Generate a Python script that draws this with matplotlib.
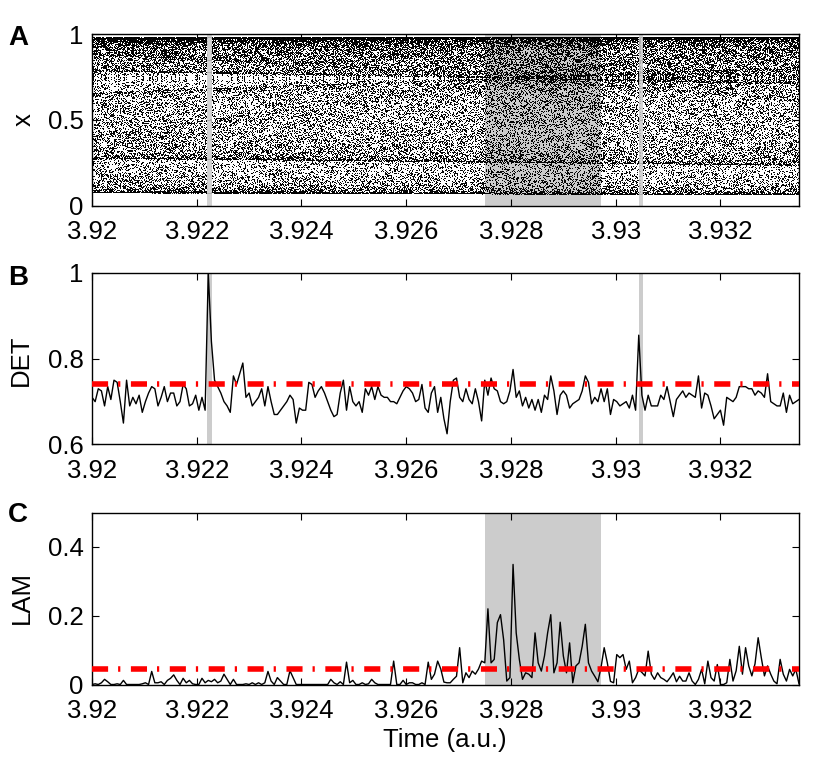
import numpy as np
import matplotlib
matplotlib.use("Agg")
import matplotlib.pyplot as plt
from matplotlib.ticker import FixedLocator, FixedFormatter

plt.rcParams['font.family'] = ['Liberation Sans', 'DejaVu Sans']

# --- data ---------------------------------------------------------------
t_start, t_end = 3.92, 3.9335     # control parameter / time axis
n_iter = 70000                     # iterations of the drifting logistic map
x_init = 0.4

# DET / LAM per window
det = [
    0.71, 0.70, 0.73, 0.725, 0.69, 0.735, 0.705, 0.75, 0.745, 0.70,
    0.65, 0.75, 0.69, 0.71, 0.695, 0.715, 0.675, 0.70, 0.72, 0.735,
    0.73, 0.69, 0.71, 0.735, 0.70, 0.72, 0.72, 0.69, 0.70, 0.74,
    0.73, 0.69, 0.695, 0.715, 0.68, 0.71, 0.68, 1.00, 0.84, 0.75,
    0.735, 0.72, 0.70, 0.69, 0.675, 0.76, 0.74, 0.765, 0.79, 0.71,
    0.72, 0.69, 0.70, 0.71, 0.73, 0.69, 0.735, 0.70, 0.67, 0.67,
    0.68, 0.69, 0.70, 0.715, 0.705, 0.65, 0.685, 0.68, 0.68, 0.745,
    0.74, 0.71, 0.725, 0.735, 0.72, 0.70, 0.68, 0.665, 0.67, 0.72,
    0.75, 0.68, 0.735, 0.70, 0.69, 0.70, 0.675, 0.73, 0.715, 0.735,
    0.705, 0.735, 0.715, 0.71, 0.71, 0.70, 0.70, 0.695, 0.71, 0.725,
    0.735, 0.73, 0.72, 0.70, 0.705, 0.74, 0.685, 0.675, 0.72, 0.735,
    0.675, 0.71, 0.66, 0.625, 0.70, 0.75, 0.755, 0.71, 0.70, 0.73,
    0.705, 0.695, 0.73, 0.70, 0.655, 0.75, 0.715, 0.755, 0.73, 0.725,
    0.70, 0.695, 0.70, 0.725, 0.775, 0.71, 0.725, 0.69, 0.71, 0.685,
    0.705, 0.68, 0.705, 0.675, 0.715, 0.705, 0.76, 0.725, 0.67, 0.715,
    0.725, 0.715, 0.685, 0.695, 0.70, 0.705, 0.725, 0.76, 0.745, 0.695,
    0.71, 0.70, 0.73, 0.70, 0.73, 0.67, 0.705, 0.70, 0.69, 0.695,
    0.70, 0.685, 0.715, 0.68, 0.855, 0.715, 0.68, 0.715, 0.69, 0.69,
    0.69, 0.715, 0.705, 0.735, 0.70, 0.665, 0.705, 0.715, 0.725, 0.71,
    0.72, 0.715, 0.71, 0.76, 0.685, 0.72, 0.715, 0.69, 0.66, 0.67,
    0.68, 0.645, 0.71, 0.705, 0.70, 0.71, 0.735, 0.735, 0.735, 0.73,
    0.73, 0.715, 0.725, 0.72, 0.71, 0.765, 0.70, 0.695, 0.69, 0.69,
    0.72, 0.675, 0.715, 0.695, 0.70, 0.705,
]
lam = [
    0.0, 0.002, 0.0, 0.005, 0.015, 0.008, 0.0, 0.0, 0.002, 0.0,
    0.012, 0.0, 0.0, 0.0, 0.0, 0.0, 0.002, 0.005, 0.0, 0.038,
    0.005, 0.005, 0.008, 0.0, 0.012, 0.018, 0.028, 0.012, 0.0, 0.018,
    0.005, 0.012, 0.002, 0.0, 0.0, 0.018, 0.005, 0.012, 0.008, 0.015,
    0.005, 0.01, 0.03, 0.015, 0.0, 0.015, 0.0, 0.0, 0.0, 0.002,
    0.0, 0.005, 0.0, 0.005, 0.0, 0.005, 0.038, 0.01, 0.0, 0.02,
    0.01, 0.0, 0.0, 0.04, 0.02, 0.0, 0.0, 0.0, 0.0, 0.0,
    0.0, 0.0, 0.0, 0.0, 0.0, 0.0, 0.015, 0.005, 0.0, 0.008,
    0.0, 0.065, 0.005, 0.012, 0.0, 0.0, 0.005, 0.0, 0.002, 0.015,
    0.005, 0.0, 0.0, 0.0, 0.0, 0.0, 0.068, 0.0, 0.0, 0.012,
    0.0, 0.005, 0.005, 0.0, 0.0, 0.005, 0.0, 0.065, 0.015, 0.03,
    0.068, 0.045, 0.007, 0.005, 0.005, 0.015, 0.024, 0.107, 0.005, 0.034,
    0.02, 0.039, 0.03, 0.045, 0.068, 0.063, 0.22, 0.063, 0.073, 0.18,
    0.203, 0.13, 0.01, 0.02, 0.349, 0.15, 0.073, 0.015, 0.034, 0.03,
    0.02, 0.15, 0.063, 0.039, 0.083, 0.15, 0.203, 0.034, 0.063, 0.181,
    0.083, 0.034, 0.121, 0.005, 0.054, 0.063, 0.111, 0.175, 0.063, 0.039,
    0.024, 0.008, 0.05, 0.107, 0.063, 0.009, 0.005, 0.087, 0.078, 0.087,
    0.044, 0.068, 0.005, 0.02, 0.044, 0.035, 0.025, 0.097, 0.03, 0.015,
    0.034, 0.02, 0.015, 0.008, 0.02, 0.034, 0.008, 0.024, 0.01, 0.01,
    0.034, 0.01, 0.0, 0.015, 0.044, 0.002, 0.068, 0.02, 0.01, 0.058,
    0.0, 0.0, 0.005, 0.073, 0.01, 0.04, 0.111, 0.03, 0.107, 0.054,
    0.025, 0.06, 0.136, 0.078, 0.025, 0.054, 0.03, 0.01, 0.002, 0.073,
    0.03, 0.01, 0.044, 0.025, 0.044, 0.002,
]
det_thresh = 0.74
lam_thresh = 0.045
det_events = [(3.92219, 3.92229), (3.93044, 3.93053)]
lam_event = (3.9275, 3.92971)

xticks = [3.92, 3.922, 3.924, 3.926, 3.928, 3.93, 3.932]
xticklabels = ['3.92', '3.922', '3.924', '3.926', '3.928', '3.93', '3.932']

# --- logistic map with slowly increasing parameter -----------------------
r = np.linspace(t_start, t_end, n_iter)
xs = np.empty(n_iter)
xs[0] = x_init
for k in range(1, n_iter):
    xs[k] = r[k - 1] * xs[k - 1] * (1 - xs[k - 1])

win_t = np.linspace(t_start, t_end, len(det))

# --- figure --------------------------------------------------------------
W, H = 830, 763
fig = plt.figure(figsize=(W / 100, H / 100), dpi=100)

def px_axes(left, top, right, bottom):
    return fig.add_axes([left / W, 1 - bottom / H, (right - left) / W, (bottom - top) / H])

axA = px_axes(92, 34, 799, 205.5)
axB = px_axes(92, 273, 799, 444.5)
axC = px_axes(92, 512.5, 799, 684.5)

gray = '#cccccc'
red_style = (0, (2.9, 1.8, 0.4, 1.9))

# A
axA.axvspan(*lam_event, color=gray, lw=0, zorder=0)
axA.plot(r, xs, 's', ms=0.65, mew=0, color='k', zorder=1)
for a, b in det_events:
    axA.axvspan(a, b, color=gray, lw=0, alpha=0.85, zorder=2)
axA.set_ylim(0, 1)
axA.set_yticks([0, 0.5, 1])
axA.set_yticklabels(['0', '0.5', '1'])

# B
for a, b in det_events:
    axB.axvspan(a, b, color=gray, lw=0, zorder=0)
axB.plot(win_t, det, color='k', lw=1.0, zorder=2)
axB.axhline(det_thresh, color='#ff0000', lw=4, linestyle=red_style,
            dash_capstyle='butt', zorder=3)
axB.set_ylim(0.6, 1)
axB.set_yticks([0.6, 0.8, 1])
axB.set_yticklabels(['0.6', '0.8', '1'])

# C
axC.axvspan(*lam_event, color=gray, lw=0, zorder=0)
axC.plot(win_t, lam, color='k', lw=1.0, zorder=2)
axC.axhline(lam_thresh, color='#ff0000', lw=4, linestyle=red_style,
            dash_capstyle='butt', zorder=3)
axC.set_ylim(0, 0.5)
axC.set_yticks([0, 0.2, 0.4])
axC.set_yticklabels(['0', '0.2', '0.4'])

for ax in (axA, axB, axC):
    ax.set_xlim(t_start, t_end)
    ax.xaxis.set_major_locator(FixedLocator(xticks))
    ax.xaxis.set_major_formatter(FixedFormatter(xticklabels))
    ax.tick_params(direction='in', length=5, width=0.8, top=True, right=True,
                   labelsize=18.5)
    ax.tick_params(axis='x', pad=10.5)
    ax.tick_params(axis='y', pad=6)
    for s in ax.spines.values():
        s.set_linewidth(1.0)

# labels
fs = 18.5
fig.text(24 / W, 1 - 120 / H, 'x', rotation=90, ha='center', va='center', fontsize=fs)
fig.text(21 / W, 1 - 360 / H, 'DET', rotation=90, ha='center', va='center', fontsize=fs)
fig.text(22 / W, 1 - 598 / H, 'LAM', rotation=90, ha='center', va='center', fontsize=fs)
fig.text(445 / W, 1 - 747 / H, 'Time (a.u.)', ha='center', va='baseline', fontsize=fs)

for lab, yb in (('A', 45), ('B', 285), ('C', 522)):
    fig.text(8 / W, 1 - yb / H, lab, ha='left', va='baseline', fontsize=20,
             fontweight='bold')

fig.savefig('out.png', dpi=100)
